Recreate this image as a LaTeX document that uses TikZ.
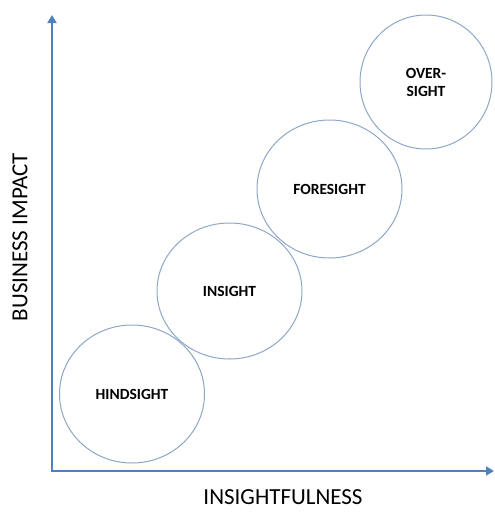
\documentclass[tikz,border=0pt]{standalone}
\usepackage{fontspec}
\setmainfont{Carlito}
\usetikzlibrary{arrows.meta,shapes.geometric}
\definecolor{axisblue}{HTML}{4F81BD}
\definecolor{ringblue}{HTML}{8FA6C6}
\tikzset{
  axisline/.style={draw=axisblue, line width=2.6pt, -{Triangle[length=8pt,width=9pt]}},
  ring/.style={ellipse, draw=ringblue, line width=1pt, inner sep=0pt,
    font=\fontsize{15.5}{18}\selectfont\bfseries, align=center, text=black},
  axislabel/.style={font=\fontsize{23}{26}\selectfont, text=black}
}
\begin{document}
\begin{tikzpicture}[x=1pt,y=-1pt]
\useasboundingbox (0,0) rectangle (495,515);
\coordinate (origin) at (52,471);
\coordinate (ytop) at (52,15);
\coordinate (xend) at (494,471);
\draw[axisline] (origin) -- (ytop);
\draw[axisline] ([xshift=-1.3pt]origin) -- (xend);
\node[ring, minimum width=145pt, minimum height=138pt] (hind) at (132,394) {HINDSIGHT};
\node[ring, minimum width=145pt, minimum height=136pt] (ins) at (229.5,291) {INSIGHT};
\node[ring, minimum width=145pt, minimum height=138pt] (fore) at (329.5,189) {FORESIGHT};
\node[ring, minimum width=132pt, minimum height=134pt] (over) at (426,82) {OVER-\\SIGHT};
\node[axislabel, rotate=90] (ylab) at (20,237) {BUSINESS IMPACT};
\node[axislabel] (xlab) at (283,497) {INSIGHTFULNESS};
\end{tikzpicture}
\end{document}
